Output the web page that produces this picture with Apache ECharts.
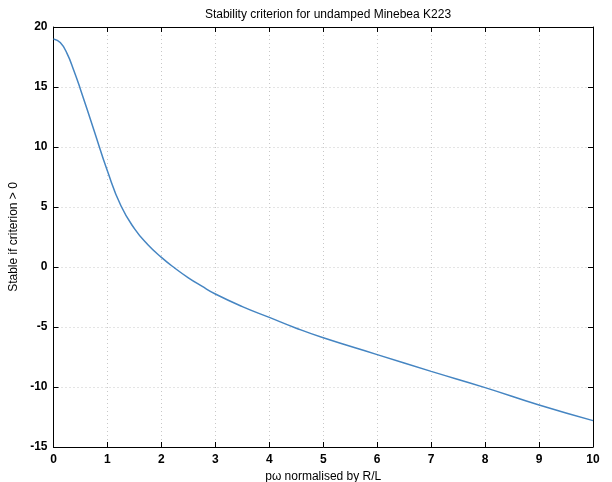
<!DOCTYPE html>
<html>
<head>
<meta charset="utf-8">
<script src="https://cdn.jsdelivr.net/npm/echarts@6/dist/echarts.min.js"></script>
<style>
  html, body { margin: 0; padding: 0; background: #ffffff; }
  #chart { width: 612px; height: 482px; }
</style>
</head>
<body>
<div id="chart"></div>
<script>
// Normalised frequency p·ω / (R/L)
const pOmega = [0, 0.125, 0.25, 0.375, 0.5, 0.75, 1.0, 1.25, 1.5, 1.75, 2.0, 2.25, 2.5, 2.75, 3.0,
                3.5, 4.0, 4.5, 5.0, 6.0, 7.0, 8.0, 9.0, 10.0];
// Stability criterion value (stable when > 0)
const criterion = [19.0, 18.7, 17.8, 16.4, 14.8, 11.4, 8.0, 5.1, 3.2, 1.85, 0.8, -0.1, -0.9, -1.6, -2.25,
                   -3.3, -4.2, -5.1, -5.9, -7.3, -8.7, -10.05, -11.5, -12.8];
const xTicks = ['0', '1', '2', '3', '4', '5', '6', '7', '8', '9', '10'];
const yTicks = ['-15', '-10', '-5', '0', '5', '10', '15', '20'];

const titleText = 'Stability criterion for undamped Minebea K223';
const xLabel = 'p\u03C9 normalised by R/L';
const yLabel = 'Stable if criterion > 0';

const font = 'Liberation Sans, Arial, sans-serif';
const points = pOmega.map((x, i) => [x, criterion[i]]);

const chart = echarts.init(document.getElementById('chart'), null, { renderer: 'canvas' });

const gridLine = { show: true, lineStyle: { color: '#c8c8c8', type: [1, 3], width: 1 } };
const frame = { show: true, onZero: false, lineStyle: { color: '#000', width: 1 } };
const ticks = { show: true, inside: true, length: 5, lineStyle: { color: '#000' } };
const tickLabel = { color: '#000', fontFamily: font, fontSize: 12, fontWeight: 'bold' };
const nameStyle = { fontFamily: font, fontSize: 12, color: '#000' };

chart.setOption({
  animation: false,
  backgroundColor: '#ffffff',
  title: {
    text: titleText,
    left: 323, top: 4, textAlign: 'center',
    textStyle: { fontFamily: font, fontSize: 12, fontWeight: 'normal', color: '#000' }
  },
  grid: { left: 53.5, right: 19, top: 27, bottom: 35, containLabel: false, outerBoundsMode: 'none' },
  xAxis: [
    {
      type: 'value', min: 0, max: 10, interval: 1,
      axisLine: frame, axisTick: ticks, splitLine: gridLine,
      axisLabel: Object.assign({ margin: 7, formatter: v => xTicks[Math.round(v)] }, tickLabel),
      name: xLabel, nameLocation: 'middle', nameGap: 20, nameTextStyle: nameStyle
    },
    {
      type: 'value', min: 0, max: 10, interval: 1, position: 'top',
      axisLine: frame, axisTick: ticks, splitLine: { show: false }, axisLabel: { show: false }
    }
  ],
  yAxis: [
    {
      type: 'value', min: -15, max: 20, interval: 5,
      axisLine: frame, axisTick: ticks, splitLine: gridLine,
      axisLabel: Object.assign({ margin: 6, formatter: v => yTicks[Math.round((v + 15) / 5)] }, tickLabel),
      name: yLabel, nameLocation: 'middle', nameGap: 20, nameRotate: 90, nameTextStyle: nameStyle
    },
    {
      type: 'value', min: -15, max: 20, interval: 5, position: 'right',
      axisLine: frame, axisTick: ticks, splitLine: { show: false }, axisLabel: { show: false }
    }
  ],
  series: [{
    type: 'line',
    data: points,
    xAxisIndex: 0, yAxisIndex: 0,
    smooth: 0.5,
    showSymbol: false,
    lineStyle: { color: '#4585c2', width: 1.5 }
  }]
});
</script>
</body>
</html>
